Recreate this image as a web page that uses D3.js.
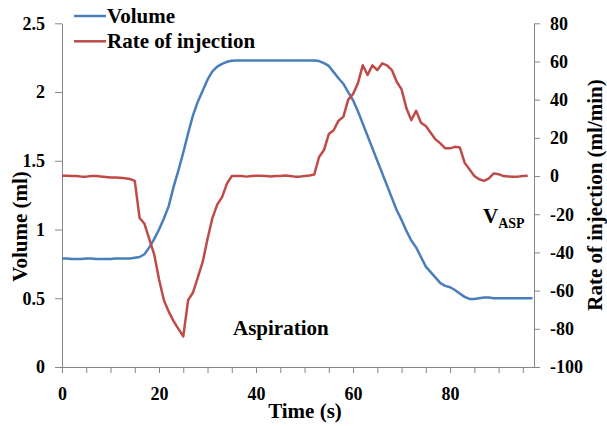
<!DOCTYPE html>
<html><head><meta charset="utf-8">
<script src="https://cdn.jsdelivr.net/npm/d3@7"></script>
<style>
body{margin:0;background:#fff}
svg{display:block}
text{font-family:"Liberation Serif","Times New Roman",serif;font-weight:bold;fill:#000}
</style>
</head><body>
<svg id="chart" width="607" height="426"></svg>
<script>
// ---- data ----
const volume = [
  0.79,0.79,0.785,0.785,0.785,0.79,0.79,0.785,0.785,0.785,0.785,0.79,0.79,0.79,0.79,0.795,
  0.80,0.82,0.87,0.93,1.00,1.08,1.17,1.31,1.43,1.56,1.70,1.83,1.93,2.01,2.09,2.15,2.185,2.205,2.22,2.228,
  2.23,2.23,2.23,2.23,2.23,2.23,2.23,2.23,2.23,2.23,2.23,2.23,2.23,2.23,2.23,2.23,2.23,
  2.225,2.21,2.19,2.145,2.10,2.06,2.00,1.94,1.86,1.77,1.68,1.59,1.50,1.41,1.32,1.23,1.14,1.07,0.99,0.92,
  0.87,0.80,0.73,0.69,0.65,0.61,0.59,0.58,0.56,0.535,0.51,0.495,0.495,0.50,0.505,0.505,0.50,
  0.50,0.50,0.50,0.50,0.50,0.50,0.50,0.50
];
const rate = [
  0.2,0.2,0,0,-0.3,-0.3,0,0,-0.2,-0.5,-0.8,-0.8,-0.9,-1.2,-1.5,
  -2.5,-22,-25,-33,-41,-54,-65,-71,-76,-80,-84,-65,-61,-53,-45,-33,-22,-15,-11,-4,0,
  0,0,-0.3,0,0.2,0.2,0,-0.2,0,0,0.3,0,-0.3,-0.3,0,0.3,0.8,
  10,13.6,22,24,29,31,40,43,48.6,58,53,58,55.5,59,58,55.5,49.4,45.4,35.5,29.3,34.2,27.9,26.2,22.7,
  19.2,17.1,14.5,14.5,15.3,15.0,7.0,3.5,0,-1.7,-2.5,-1.2,1.4,1.0,0,-0.2,-0.4,-0.3,0,0.2
];
const volumeTime = d3.range(volume.length);   // seconds
const rateTime = d3.range(rate.length);       // seconds
const xTicks = [0,5,10,15,20,25,30,35,40,45,50,55,60,65,70,75,80,85,90,95];
const xLabels = [0,20,40,60,80];
const yLeftTicks = [0,0.5,1,1.5,2,2.5];
const yRightTicks = [-100,-80,-60,-40,-20,0,20,40,60,80];
const seriesNames = ["Volume","Rate of injection"];
const colors = ["#4a7ebb","#be4b48"];

// ---- scales ----
const svg = d3.select("#chart");
const x = d3.scaleLinear().domain([0,97.3]).range([62,534]);
const yL = d3.scaleLinear().domain([0,2.5]).range([367,23.3]);
const yR = d3.scaleLinear().domain([-100,80]).range([367,23.3]);

function styleAxis(g){
  g.selectAll("path,line").attr("stroke","#868686").attr("stroke-width",1);
  g.selectAll("text").attr("font-size",18).attr("fill","#000")
   .attr("font-family",'"Liberation Serif","Times New Roman",serif').attr("font-weight","bold");
}

svg.append("g").attr("transform","translate(0,367)")
  .call(d3.axisBottom(x).tickValues(xTicks).tickSize(6).tickSizeOuter(0).tickPadding(14)
    .tickFormat(d => xLabels.includes(d) ? String(d) : ""))
  .call(styleAxis);

svg.append("g").attr("transform","translate(62,0)")
  .call(d3.axisLeft(yL).tickValues(yLeftTicks).tickSize(7).tickSizeOuter(0).tickPadding(10)
    .tickFormat(d => String(d)))
  .call(styleAxis);

svg.append("g").attr("transform","translate(534,0)")
  .call(d3.axisRight(yR).tickValues(yRightTicks).tickSize(6).tickSizeOuter(0).tickPadding(10)
    .tickFormat(d => String(d)))
  .call(styleAxis);

// ---- lines ----
const lineV = d3.line().x((d,i)=>x(volumeTime[i])).y(d=>yL(d));
const lineR = d3.line().x((d,i)=>x(rateTime[i])).y(d=>yR(d));
svg.append("path").datum(volume).attr("d",lineV).attr("fill","none")
  .attr("stroke",colors[0]).attr("stroke-width",2.5).attr("stroke-linejoin","round");
svg.append("path").datum(rate).attr("d",lineR).attr("fill","none")
  .attr("stroke",colors[1]).attr("stroke-width",2.5).attr("stroke-linejoin","round");

// ---- legend ----
const legY = [16,41.3];
seriesNames.forEach((n,i)=>{
  svg.append("line").attr("x1",74).attr("x2",106).attr("y1",legY[i]).attr("y2",legY[i])
    .attr("stroke",colors[i]).attr("stroke-width",2.5);
  svg.append("text").attr("x",107).attr("y",legY[i]+6.5).attr("font-size",21).text(n);
});

// ---- titles / annotations ----
svg.append("text").attr("transform","translate(27,226.5) rotate(-90)")
  .attr("text-anchor","middle").attr("font-size",21).text("Volume (ml)");
svg.append("text").attr("transform","translate(602,195) rotate(-90)")
  .attr("text-anchor","middle").attr("font-size",21).text("Rate of injection (ml/min)");
svg.append("text").attr("x",305).attr("y",418).attr("text-anchor","middle")
  .attr("font-size",21).text("Time (s)");
svg.append("text").attr("x",233).attr("y",335).attr("font-size",21).text("Aspiration");
const v = svg.append("text").attr("x",483).attr("y",223).attr("font-size",21);
v.append("tspan").text("V");
v.append("tspan").attr("font-size",14).attr("dy",5).text("ASP");
</script>
</body></html>
